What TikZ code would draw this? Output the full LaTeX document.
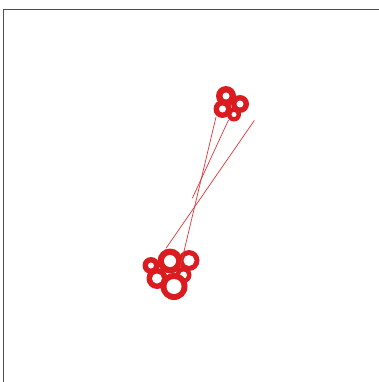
\documentclass[tikz,border=0pt]{standalone}
\definecolor{ringred}{RGB}{218,28,32}
\definecolor{linered}{RGB}{225,50,55}
\definecolor{framegray}{RGB}{80,80,80}
\newcommand{\myring}[3]{\fill[ringred] (#1) circle[radius=#2];\fill[white] (#1) circle[radius=#3];}
\begin{document}
\begin{tikzpicture}[x=1pt,y=-1pt,
  wire/.style={draw=linered,line width=0.7pt},
  frameline/.style={draw=framegray,line width=1pt}]
\useasboundingbox (0,0) rectangle (379,382);
\draw[frameline] (3.5,400) -- (3.5,9.5) -- (400,9.5);
% ring centres
\coordinate (t1) at (226,96);
\coordinate (t2) at (240,104);
\coordinate (t3) at (222.5,109);
\coordinate (t4) at (234,114.5);
\coordinate (b1) at (151,265.5);
\coordinate (b2) at (170,261);
\coordinate (b3) at (189,260.5);
\coordinate (b4) at (157,278.5);
\coordinate (b5) at (183.5,275);
\coordinate (b6) at (174,286.5);
% top cluster
\myring{t1}{10pt}{3.5pt}
\myring{t2}{9pt}{3.5pt}
\myring{t3}{9pt}{3.5pt}
\myring{t4}{7pt}{2.5pt}
% bottom cluster
\myring{b1}{8.5pt}{3pt}
\myring{b2}{12.5pt}{6pt}
\myring{b3}{10.5pt}{5.5pt}
\myring{b4}{10.5pt}{5pt}
\myring{b5}{8pt}{3.5pt}
\myring{b6}{13.5pt}{7.5pt}
% wires
\coordinate (a1) at (216,117);
\coordinate (a2) at (180,268);
\coordinate (c1) at (228.5,120);
\coordinate (c2) at (192.3,198.3);
\coordinate (e1) at (254.3,120.5);
\coordinate (e2) at (166,248.3);
\draw[wire] (a1) -- (a2);
\draw[wire] (c1) -- (c2);
\draw[wire] (e1) -- (e2);
\end{tikzpicture}
\end{document}
